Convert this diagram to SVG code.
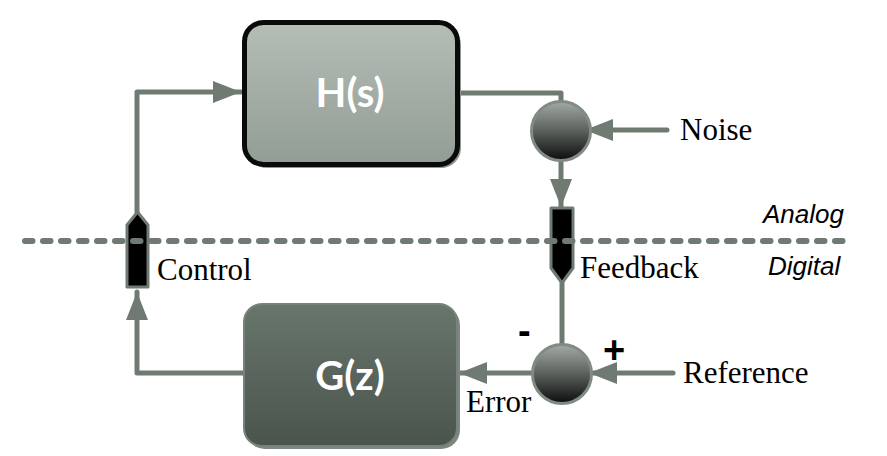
<svg xmlns="http://www.w3.org/2000/svg" width="887" height="456" viewBox="0 0 887 456">
<style>
.wire{fill:none;stroke:#6f7b72;stroke-width:5;stroke-linecap:round;stroke-linejoin:round}
.lbl{font-family:"Liberation Serif","Times New Roman",serif;font-size:31px;fill:#000}
.dom{font-family:"Liberation Sans",Arial,sans-serif;font-style:italic;font-size:26px;fill:#000}
.blk{font-family:Lato,"Open Sans",sans-serif;font-weight:bold;font-size:40px;fill:#fff;text-anchor:middle}
.sign{font-family:"Liberation Sans",Arial,sans-serif;font-weight:bold;font-size:38px;fill:#000}
.conv{fill:#000;stroke:#6f7b72;stroke-width:3;stroke-linejoin:round}
.sum{stroke:#808b83;stroke-width:3}
</style>
<defs>
<marker id="arr" markerUnits="userSpaceOnUse" markerWidth="28" markerHeight="22" refX="28" refY="11" orient="auto">
<path d="M0,0 L28,11 L0,22 z" fill="#6f7b72"/>
</marker>
<linearGradient id="gH" x1="0" y1="0" x2="0" y2="1">
<stop offset="0" stop-color="#b4bdb6"/><stop offset="1" stop-color="#929d95"/>
</linearGradient>
<linearGradient id="gG" x1="0" y1="0" x2="0" y2="1">
<stop offset="0" stop-color="#68766c"/><stop offset="1" stop-color="#4a544c"/>
</linearGradient>
<linearGradient id="gS" x1="0" y1="0" x2="0" y2="1">
<stop offset="0" stop-color="#a3aaa5"/><stop offset="0.5" stop-color="#5a605c"/><stop offset="1" stop-color="#0c0c0c"/>
</linearGradient>
</defs>

<g id="connectors">
<path class="wire" d="M243,373 L137,373 L137,292" marker-end="url(#arr)"/>
<path class="wire" d="M137,212 L137,92 L241,92" marker-end="url(#arr)"/>
<path class="wire" d="M458,93 L561,93 L561,104"/>
<path class="wire" d="M561,160 L561,207" marker-end="url(#arr)"/>
<path class="wire" d="M667,130 L585,130" marker-end="url(#arr)"/>
<path class="wire" d="M562,283 L562,345"/>
<path class="wire" d="M673,373 L589,373" marker-end="url(#arr)"/>
<path class="wire" d="M534,373 L459,373" marker-end="url(#arr)"/>
</g>

<g id="H">
<rect x="247" y="25" width="214" height="143" rx="20" fill="#8c978f"/>
<rect x="244.5" y="22.5" width="213" height="142" rx="19" fill="url(#gH)" stroke="#0a0a0a" stroke-width="5"/>
<text class="blk" x="350" y="107">H(s)</text>
</g>

<g id="G">
<rect x="246" y="306" width="214" height="143" rx="19" fill="#7d8880"/>
<rect x="244" y="304" width="213" height="142" rx="18" fill="url(#gG)" stroke="#76827a" stroke-width="2"/>
<text class="blk" x="350" y="390">G(z)</text>
</g>

<g id="sumNoise">
<circle class="sum" cx="561" cy="131" r="29.5" fill="url(#gS)"/>
</g>

<g id="sumRef">
<circle class="sum" cx="562" cy="374" r="29.5" fill="url(#gS)"/>
</g>

<g id="dac">
<path class="conv" d="M137.5,212 L148,225 L148,287 L127,287 L127,225 z"/>
</g>

<g id="adc">
<path class="conv" d="M551,208 L573,208 L573,268 L562,283 L551,268 z"/>
</g>

<g id="boundary">
<line x1="25" y1="241" x2="845" y2="241" stroke="#6f7b72" stroke-width="6" stroke-linecap="round" stroke-dasharray="7.5 10.5"/>
<text class="dom" x="763" y="223">Analog</text>
<text class="dom" x="768" y="275">Digital</text>
</g>

<g id="labels">
<text class="lbl" x="680" y="140">Noise</text>
<text class="lbl" x="157" y="280">Control</text>
<text class="lbl" x="580" y="278">Feedback</text>
<text class="lbl" x="683" y="383">Reference</text>
<text class="lbl" x="466" y="412">Error</text>
<text class="sign" x="518" y="344">-</text>
<text class="sign" x="603" y="363">+</text>
</g>
</svg>
